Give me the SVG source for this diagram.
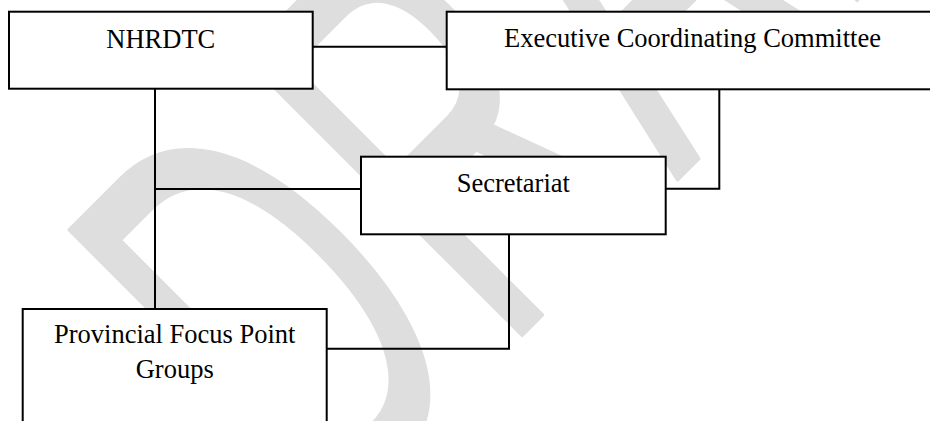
<svg xmlns="http://www.w3.org/2000/svg" width="930" height="421" viewBox="0 0 930 421">
<style>
.box{fill:#ffffff;stroke:#000000;stroke-width:2}
.lbl{font-family:"Liberation Serif","Times New Roman",serif;font-size:26.5px;fill:#000000;text-anchor:middle}
.conn{fill:none;stroke:#000000;stroke-width:2}
.wm{font-family:"Liberation Sans",Arial,sans-serif;font-size:573px;fill:#dedede;stroke:#dedede;stroke-width:4;stroke-linejoin:round}
</style>
<rect x="0" y="0" width="930" height="421" fill="#ffffff"/>
<g id="watermark">
<text class="wm" transform="rotate(-45) scale(0.56,1)" x="-251" y="606" letter-spacing="25">DRAFT</text>
</g>
<g id="connectors">
<path class="conn" d="M312.7 46.7H446.7"/>
<path class="conn" d="M155 88.7V309M155 189H361"/>
<path class="conn" d="M719.3 89.3V188.7H665.7"/>
<path class="conn" d="M509 234.3V348.7H326.7"/>
</g>
<g id="nhrdtc">
<rect class="box" x="9" y="11.7" width="303.7" height="77"/>
<text class="lbl" x="160.8" y="48">NHRDTC</text>
</g>
<g id="executive-coordinating-committee">
<rect class="box" x="446.7" y="11.7" width="492" height="77.6"/>
<text class="lbl" x="692.5" y="47">Executive Coordinating Committee</text>
</g>
<g id="secretariat">
<rect class="box" x="361" y="156.7" width="304.7" height="77.6"/>
<text class="lbl" x="513.3" y="191.7">Secretariat</text>
</g>
<g id="provincial-focus-point-groups">
<rect class="box" x="22.7" y="309" width="304" height="140"/>
<text class="lbl" x="174.7" y="343.3">Provincial Focus Point</text>
<text class="lbl" x="174.7" y="378.3">Groups</text>
</g>
</svg>
